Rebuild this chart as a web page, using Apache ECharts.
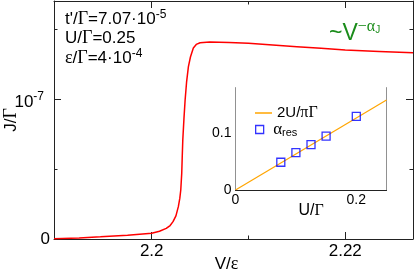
<!DOCTYPE html>
<html><head><meta charset="utf-8">
<script src="https://cdn.jsdelivr.net/npm/echarts@6/dist/echarts.min.js"></script>
<style>html,body{margin:0;padding:0;background:#fff}#c{width:415px;height:278px}</style>
</head><body><div id="c"></div>
<script>
// Main curve: V/eps vs J/Gamma (J in units of 1e-7)
const V_eps = [2.1899, 2.1925, 2.1947, 2.1975, 2.2000, 2.2008, 2.2015, 2.2019, 2.2022, 2.2025, 2.20275, 2.2029, 2.2030, 2.2031, 2.20315, 2.20321, 2.20333, 2.20345, 2.2036, 2.20379, 2.2040, 2.2043, 2.2046, 2.2050, 2.2060, 2.2080, 2.2100, 2.2125, 2.2150, 2.2175, 2.2200, 2.2235, 2.2270];
const J_gamma = [0.002, 0.008, 0.016, 0.027, 0.041, 0.055, 0.076, 0.096, 0.124, 0.165, 0.231, 0.29, 0.35, 0.469, 0.58, 0.707, 0.86, 0.993, 1.12, 1.231, 1.30, 1.365, 1.390, 1.402, 1.408, 1.404, 1.398, 1.386, 1.374, 1.362, 1.350, 1.340, 1.330];
// Inset
const U_res = [0.075, 0.1, 0.125, 0.15, 0.2];
const alpha_res = [0.049, 0.066, 0.080, 0.095, 0.130];
const U_line = [0, 0.25];
const line_2U = [0, 0.159];
// Ticks
const mainXMajor = [2.2, 2.22], mainXMinor = [2.21];
const mainYMajor = [0, 1], mainYMinor = [0.5, 1.5];
const insXMajor = [0, 0.2], insXMinor = [0.1];
const insYMajor = [0, 0.1], insYMinor = [0.05, 0.15];

const AXC = '#222';
const SANS = 'Liberation Sans';
const SERIF = 'Liberation Serif';

function axis(gi, pos, min, max, ticks, len, line, label) {
  return {
    type: 'value', gridIndex: gi, position: pos, min: min, max: max,
    axisLine: {show: line, onZero: false, lineStyle: {color: AXC, width: 1}},
    axisTick: {show: true, inside: true, length: len, customValues: ticks, lineStyle: {color: AXC, width: 1}},
    axisLabel: label ? label : {show: false},
    splitLine: {show: false}
  };
}

const xAxes = [
  Object.assign(axis(0, 'bottom', 2.1899, 2.227, mainXMajor, 7, true, {
    show: true, customValues: mainXMajor, margin: 4,
    fontFamily: SANS, fontSize: 17, color: '#000',
    formatter: v => (Math.abs(v - 2.2) < 1e-9 ? '2.2' : '2.22')
  }), {name: '{a|V/}{g|ε}', nameLocation: 'middle', nameGap: 16, nameMoveOverlap: false,
       nameTextStyle: {verticalAlign: 'top', rich: {a: {fontFamily: SANS, fontSize: 17, color: '#000'}, g: {fontFamily: SERIF, fontSize: 18, color: '#000'}}, padding: [0, 14, 0, 0]}}),
  axis(0, 'bottom', 2.1899, 2.227, mainXMinor, 3.5, false),
  axis(0, 'top', 2.1899, 2.227, mainXMajor, 7, true),
  axis(0, 'top', 2.1899, 2.227, mainXMinor, 3.5, false),
  Object.assign(axis(1, 'bottom', 0, 0.25, insXMajor, 7, true, {
    show: true, customValues: insXMajor, margin: 3,
    fontFamily: SANS, fontSize: 14, color: '#000',
    formatter: v => (v === 0 ? '0' : '0.2')
  }), {name: '{a|U/}{g|Γ}', nameLocation: 'middle', nameGap: 13, nameMoveOverlap: false,
       nameTextStyle: {verticalAlign: 'top', rich: {a: {fontFamily: SANS, fontSize: 16, color: '#000'}, g: {fontFamily: SERIF, fontSize: 16, color: '#000'}}}}),
  axis(1, 'bottom', 0, 0.25, insXMinor, 3.5, false),
  axis(1, 'top', 0, 0.25, insXMajor, 7, true),
  axis(1, 'top', 0, 0.25, insXMinor, 3.5, false)
];

const yAxes = [
  Object.assign(axis(0, 'left', 0, 1.7, mainYMajor, 7, true, {
    show: true, customValues: mainYMajor, margin: 4,
    fontFamily: SANS, fontSize: 17, color: '#000',
    formatter: v => (v === 0 ? '0' : '{b|10}{s|-7}'),
    rich: {b: {fontFamily: SANS, fontSize: 17, color: '#000', padding: [6, 0, 0, 0]},
           s: {fontFamily: SANS, fontSize: 12, color: '#000', padding: [0, 6, 4, 0]}}
  }), {name: '{a|J/}{g|Γ}', nameLocation: 'middle', nameGap: 34, nameRotate: 90, nameMoveOverlap: false,
       nameTextStyle: {rich: {a: {fontFamily: SANS, fontSize: 17, color: '#000'}, g: {fontFamily: SERIF, fontSize: 18, color: '#000'}}}}),
  axis(0, 'left', 0, 1.7, mainYMinor, 3.5, false),
  axis(0, 'right', 0, 1.7, mainYMajor, 7, true),
  axis(0, 'right', 0, 1.7, mainYMinor, 3.5, false),
  axis(1, 'left', 0, 0.18, insYMajor, 7, true, {
    show: true, customValues: insYMajor, margin: 4,
    fontFamily: SANS, fontSize: 14, color: '#000',
    formatter: v => (v === 0 ? '0' : '0.1')
  }),
  axis(1, 'left', 0, 0.18, insYMinor, 3.5, false),
  axis(1, 'right', 0, 0.18, insYMajor, 7, true),
  axis(1, 'right', 0, 0.18, insYMinor, 3.5, false)
];

const option = {
  animation: false,
  backgroundColor: '#fff',
  grid: [
    {left: 54, right: 2, top: 1, bottom: 39, outerBoundsMode: 'none', containLabel: false},
    {left: 235.5, top: 88, width: 151, height: 102, show: true, backgroundColor: '#fff', borderWidth: 0, z: 3, outerBoundsMode: 'none', containLabel: false}
  ],
  xAxis: xAxes,
  yAxis: yAxes,
  legend: [
    {data: [{name: '2U/πΓ', icon: 'rect', itemStyle: {color: '#ffa500', borderWidth: 0}}],
     left: 250, top: 100, itemWidth: 17, itemHeight: 1.5, itemGap: 0,
     formatter: () => '{a|2U/}{g|πΓ}',
     textStyle: {rich: {a: {fontFamily: SANS, fontSize: 15, color: '#000'}, g: {fontFamily: SERIF, fontSize: 16, color: '#000'}}}},
    {data: [{name: 'α_res', icon: 'path://M0,0H10V10H0Z', itemStyle: {color: 'rgba(255,255,255,0)', borderColor: '#0000ff', borderWidth: 1.3}}],
     left: 250, top: 116, itemWidth: 17, itemHeight: 8, itemGap: 0, symbolKeepAspect: true,
     formatter: () => '{g|α}{s|res}',
     textStyle: {rich: {g: {fontFamily: SERIF, fontSize: 17, color: '#000'}, s: {fontFamily: SANS, fontSize: 11, color: '#000', padding: [6, 0, 0, 0]}}}}
  ],
  series: [
    {type: 'line', xAxisIndex: 0, yAxisIndex: 0, data: V_eps.map((v, i) => [v, J_gamma[i]]),
     symbol: 'none', smooth: false, lineStyle: {color: '#ff0000', width: 1.5}, z: 2},
    {name: '2U/πΓ', type: 'line', xAxisIndex: 4, yAxisIndex: 4, data: U_line.map((u, i) => [u, line_2U[i]]),
     symbol: 'none', lineStyle: {color: '#ffa500', width: 1.2}, itemStyle: {color: '#ffa500'}, z: 4},
    {name: 'α_res', type: 'scatter', xAxisIndex: 4, yAxisIndex: 4, data: U_res.map((u, i) => [u, alpha_res[i]]),
     symbol: 'rect', symbolSize: 8, itemStyle: {color: 'rgba(255,255,255,0)', borderColor: '#0000ff', borderWidth: 1.3}, z: 5}
  ],
  graphic: [
    {type: 'text', left: 65, top: 9, z: 10, style: {
      text: "{a|t'/}{g|Γ}{a|=7.07·10}{s|-5}", rich: {
        a: {fontFamily: SANS, fontSize: 17, fill: '#000'}, g: {fontFamily: SERIF, fontSize: 18, fill: '#000'},
        s: {fontFamily: SANS, fontSize: 12, fill: '#000', padding: [0, 0, 8, 0]}}}},
    {type: 'text', left: 65, top: 29, z: 10, style: {
      text: '{a|U/}{g|Γ}{a|=0.25}', rich: {
        a: {fontFamily: SANS, fontSize: 17, fill: '#000'}, g: {fontFamily: SERIF, fontSize: 18, fill: '#000'}}}},
    {type: 'text', left: 65, top: 48, z: 10, style: {
      text: '{g|ε}{a|/}{g|Γ}{a|=4·10}{s|-4}', rich: {
        a: {fontFamily: SANS, fontSize: 17, fill: '#000'}, g: {fontFamily: SERIF, fontSize: 18, fill: '#000'},
        s: {fontFamily: SANS, fontSize: 12, fill: '#000', padding: [0, 0, 8, 0]}}}},
    {type: 'text', left: 329, top: 19, z: 10, style: {
      text: '{a|~V}{s|−α}{j|J}', rich: {
        a: {fontFamily: SANS, fontSize: 23, fill: '#1a8c1a'},
        s: {fontFamily: SERIF, fontSize: 16, fill: '#1a8c1a', padding: [0, 0, 13, 0]},
        j: {fontFamily: SANS, fontSize: 10, fill: '#1a8c1a', padding: [0, 0, 7, 0]}}}}
  ]
};
const chart = echarts.init(document.getElementById('c'), null, {renderer: 'canvas'});
chart.setOption(option);
</script>
</body></html>
